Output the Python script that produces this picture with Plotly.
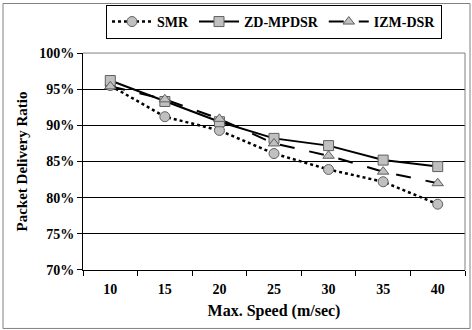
import plotly.graph_objects as go

speeds = ["10", "15", "20", "25", "30", "35", "40"]
smr = [0.955, 0.912, 0.893, 0.861, 0.839, 0.822, 0.791]
zd_mpdsr = [0.962, 0.933, 0.905, 0.882, 0.872, 0.852, 0.843]
izm_dsr = [0.954, 0.936, 0.909, 0.875, 0.858, 0.836, 0.820]

fam = "Liberation Serif, Times New Roman, serif"
font = dict(family=fam, size=14, color="black", weight="bold")
mk = dict(color="#c0c0c0", size=10, line=dict(color="#606060", width=1))

L, R, T, B = 83, 7, 51, 60
PW, PH = 472 - L - R, 330 - T - B

fig = go.Figure()
fig.add_trace(go.Scatter(x=speeds, y=smr, name="SMR", mode="lines+markers",
                         line=dict(color="black", width=2.5, dash="dot"),
                         marker=dict(symbol="circle", **mk)))
fig.add_trace(go.Scatter(x=speeds, y=zd_mpdsr, name="ZD-MPDSR", mode="lines+markers",
                         line=dict(color="black", width=2),
                         marker=dict(symbol="square", **mk)))
fig.add_trace(go.Scatter(x=speeds, y=izm_dsr, name="IZM-DSR", mode="lines+markers",
                         line=dict(color="black", width=2, dash="longdash"),
                         marker=dict(symbol="triangle-up", **mk)))

fig.update_layout(
    width=472, height=330,
    margin=dict(l=L, r=R, t=T, b=B),
    paper_bgcolor="white", plot_bgcolor="white",
    font=font,
    showlegend=True,
    legend=dict(orientation="h", x=0.5, xanchor="center", y=0.985, yref="container", yanchor="top",
                bordercolor="black", borderwidth=1,
                font=dict(family=fam, size=14, color="black", weight="bold"),
                itemwidth=40, tracegroupgap=0),
    xaxis=dict(type="category", range=[-0.5, 6.5], showline=True, linecolor="black", linewidth=1,
               ticks="outside", tickson="boundaries", ticklen=5, tickcolor="black",
               ticklabelstandoff=6,
               showgrid=False, title=dict(text="Max. Speed (m/sec)", font=dict(family=fam, size=16, weight="bold"), standoff=9)),
    yaxis=dict(range=[0.70, 1.0], dtick=0.05, tickformat=".0%", showline=True, linecolor="black",
               linewidth=1, ticks="outside", ticklen=5, tickcolor="black",
               showgrid=True, gridcolor="black", gridwidth=1, zeroline=False,
               title=dict(text="Packet Delivery Ratio", font=dict(family=fam, size=15, weight="bold"), standoff=7)),
    shapes=[
        dict(type="line", xref="paper", yref="paper", x0=0, x1=1, y0=1, y1=1, line=dict(color="#808080", width=1)),
        dict(type="line", xref="paper", yref="paper", x0=1, x1=1, y0=0, y1=1, line=dict(color="#808080", width=1)),
        dict(type="rect", xref="paper", yref="paper", x0=-(L - 3) / PW, x1=1 + (R - 2) / PW,
             y0=-(B - 1) / PH, y1=1 + (T - 1) / PH,
             line=dict(color="#808080", width=1)),
    ],
)

fig.write_html("out.html")
